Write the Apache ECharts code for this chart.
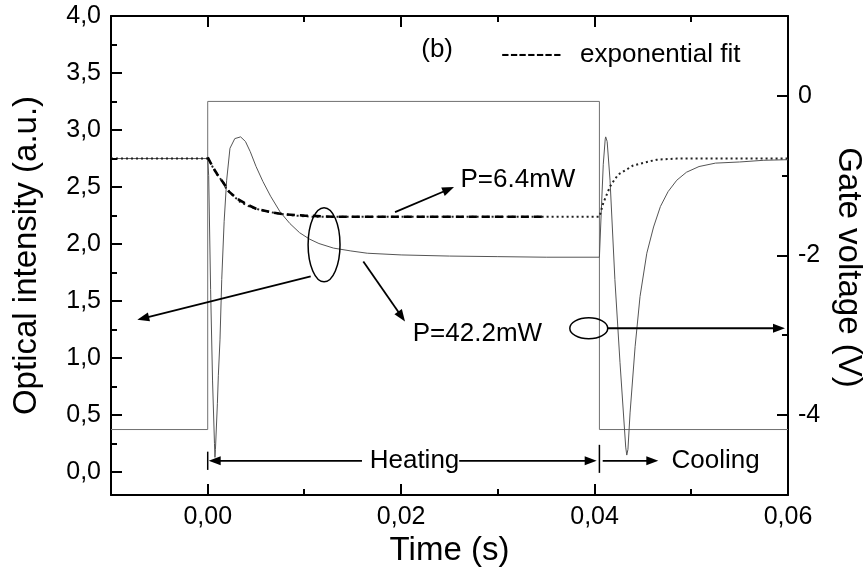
<!DOCTYPE html>
<html><head><meta charset="utf-8">
<script src="https://cdn.jsdelivr.net/npm/echarts@6/dist/echarts.min.js"></script>
<style>html,body{margin:0;padding:0;background:#fff}#c{width:868px;height:576px}</style>
</head><body><div id="c"></div>
<script>
// ---------- data (time in s, optical intensity in a.u., gate voltage in V) ----------
const xMajorTicks = [0, 0.02, 0.04];
const xMinorTicks = [0.01, 0.03, 0.05];
const xTickLabels = [0, 0.02, 0.04, 0.06];
const yLeftTickLabels = [0, 0.5, 1, 1.5, 2, 2.5, 3, 3.5, 4];
const yLeftMinorTicks = [0.25, 0.75, 1.25, 1.75, 2.25, 2.75, 3.25, 3.75];
const yRightTickLabels = [-4, -2, 0];
const yRightMinorTicks = [-3, -1];

const gateTime = [-0.01, 0, 0, 0.0405, 0.0405, 0.06];
const gateVolt = [-4.18, -4.18, -0.07, -0.07, -4.18, -4.18];

const p42Time = [-0.01, -0.005, 0, 0.0001, 0.0003, 0.0005, 0.0007, 0.00075, 0.0008, 0.001, 0.0011, 0.00127, 0.00145, 0.0017, 0.00196, 0.0023, 0.0028, 0.0034, 0.0039, 0.0044, 0.005, 0.0057, 0.0065, 0.0075, 0.0085, 0.0095, 0.0105, 0.0115, 0.013, 0.0148, 0.0165, 0.02, 0.025, 0.03, 0.035, 0.0405, 0.0407, 0.0409, 0.0411, 0.04115, 0.0413, 0.0416, 0.0421, 0.04263, 0.04322, 0.04333, 0.04345, 0.04367, 0.04419, 0.0447, 0.0454, 0.0461, 0.04681, 0.0476, 0.0485, 0.0495, 0.0508, 0.0525, 0.055, 0.0575, 0.06];
const p42Val  = [2.75, 2.75, 2.75, 2.6, 1.6, 0.8, 0.25, 0.13, 0.2, 0.6, 0.85, 1.16, 1.69, 2.2, 2.56, 2.84, 2.925, 2.94, 2.9, 2.81, 2.68, 2.55, 2.42, 2.28, 2.18, 2.1, 2.045, 2.005, 1.965, 1.94, 1.92, 1.905, 1.895, 1.89, 1.885, 1.885, 2.3, 2.7, 2.92, 2.94, 2.9, 2.56, 1.69, 0.96, 0.22, 0.15, 0.2, 0.52, 1.1, 1.54, 1.92, 2.15, 2.33, 2.46, 2.56, 2.63, 2.68, 2.71, 2.72, 2.735, 2.74];

const p64Time = [-0.01, -0.005, 0, 0.00024, 0.0008, 0.0016, 0.00196, 0.0027, 0.00334, 0.0043, 0.0054, 0.0065, 0.0075, 0.009, 0.0109, 0.015, 0.02, 0.03, 0.0405, 0.0409, 0.0416, 0.0421, 0.04246, 0.044, 0.0454, 0.04643, 0.0485, 0.06];
const p64Val  = [2.75, 2.75, 2.75, 2.72, 2.63, 2.54, 2.48, 2.42, 2.37, 2.33, 2.3, 2.28, 2.266, 2.25, 2.24, 2.24, 2.24, 2.24, 2.24, 2.36, 2.505, 2.57, 2.61, 2.69, 2.72, 2.74, 2.75, 2.75];

const fitTime = [0, 0.0005, 0.001, 0.0016, 0.0022, 0.003, 0.004, 0.005, 0.0065, 0.008, 0.01, 0.013, 0.02, 0.035];
const fitVal  = [2.76, 2.68, 2.61, 2.54, 2.46, 2.40, 2.35, 2.31, 2.28, 2.26, 2.25, 2.24, 2.24, 2.24];

// annotation anchors in data coordinates [time, intensity]
const annoTexts = [
  {pos: [0.02372, 3.70], text: '(b)', align: 'center'},
  {pos: [0.03033, 3.66], text: '-------', align: 'left'},
  {pos: [0.0385, 3.66], text: 'exponential fit', align: 'left'},
  {pos: [0.02614, 2.561], text: 'P=6.4mW', align: 'left'},
  {pos: [0.0212, 1.216], text: 'P=42.2mW', align: 'left'},
  {pos: [0.02138, 0.1], text: 'Heating', align: 'center'},
  {pos: [0.04795, 0.1], text: 'Cooling', align: 'left'}
];
const annoArrows = [
  {from: [0.01937, 2.281], to: [0.02547, 2.5]},
  {from: [0.01065, 1.716], to: [-0.00728, 1.336]},
  {from: [0.01609, 1.847], to: [0.0204, 1.321]},
  {from: [0.04137, 1.262], to: [0.05969, 1.262]},
  {from: [0.01595, 0.1], to: [0.0001, 0.1]},
  {from: [0.026, 0.1], to: [0.04022, 0.1]},
  {from: [0.04084, 0.1], to: [0.04659, 0.1]}
];
const annoEllipses = [
  {c: [0.01203, 1.994], r: [0.00165, 0.325]},
  {c: [0.0394, 1.262], r: [0.00196, 0.092]}
];
const annoBars = [
  {t: 0, v: [0.18, 0.02]},
  {t: 0.0405, v: [0.24, -0.006]}
];

// ---------- chart ----------
const FONT = '"Liberation Sans", Arial, sans-serif';
const X_MIN = -0.01, X_MAX = 0.06, YL_MIN = -0.2, YL_MAX = 4.0, YR_MIN = -5, YR_MAX = 1;
const pairs = (a, b) => a.map((t, i) => [t, b[i]]);
const comma = (v, d) => v.toFixed(d).replace('.', ',');

const chart = echarts.init(document.getElementById('c'), null, {renderer: 'canvas'});
const line = {show: true, onZero: false, lineStyle: {color: '#000', width: 2}};
const labelStyle = {show: true, margin: 10, color: '#000', fontSize: 25, fontFamily: FONT};
const nameStyle = {fontSize: 33, fontFamily: FONT, color: '#000'};

const option = {
  animation: false,
  backgroundColor: '#fff',
  grid: {left: 111, right: 80, top: 16, bottom: 81, containLabel: false, outerBoundsMode: 'none'},
  xAxis: [
    {
      type: 'value', position: 'bottom', min: X_MIN, max: X_MAX, splitLine: {show: false},
      axisLine: line, axisTick: {show: false},
      axisLabel: Object.assign({}, labelStyle, {customValues: xTickLabels, formatter: v => comma(v, 2)}),
      name: 'Time (s)', nameLocation: 'middle', nameGap: 38, nameTextStyle: nameStyle
    },
    {type: 'value', position: 'top', min: X_MIN, max: X_MAX, splitLine: {show: false}, axisLine: line, axisTick: {show: false}, axisLabel: {show: false}}
  ],
  yAxis: [
    {
      type: 'value', position: 'left', min: YL_MIN, max: YL_MAX, splitLine: {show: false},
      axisLine: line, axisTick: {show: false},
      axisLabel: Object.assign({}, labelStyle, {customValues: yLeftTickLabels, formatter: v => comma(v, 1)}),
      name: 'Optical intensity (a.u.)', nameLocation: 'middle', nameGap: 68, nameRotate: 90, nameTextStyle: nameStyle
    },
    {
      type: 'value', position: 'right', min: YR_MIN, max: YR_MAX, splitLine: {show: false},
      axisLine: line, axisTick: {show: false},
      axisLabel: Object.assign({}, labelStyle, {customValues: yRightTickLabels, formatter: v => String(v)}),
      name: 'Gate voltage (V)', nameLocation: 'middle', nameGap: 42, nameRotate: -90,
      nameTextStyle: Object.assign({}, nameStyle, {padding: [0, 0, 0, 24]})
    }
  ],
  series: [
    {name: 'Gate voltage', type: 'line', xAxisIndex: 0, yAxisIndex: 1, data: pairs(gateTime, gateVolt), symbol: 'none', lineStyle: {color: '#707070', width: 1}, z: 2},
    {name: 'P=42.2mW', type: 'line', xAxisIndex: 0, yAxisIndex: 0, data: pairs(p42Time, p42Val), symbol: 'none', lineStyle: {color: '#555', width: 1}, z: 3},
    {name: 'P=6.4mW', type: 'line', xAxisIndex: 0, yAxisIndex: 0, data: pairs(p64Time, p64Val), symbol: 'none', lineStyle: {color: '#222', width: 2, type: [2, 3]}, z: 4},
    {name: 'exponential fit', type: 'line', xAxisIndex: 0, yAxisIndex: 0, data: pairs(fitTime, fitVal), symbol: 'none', lineStyle: {color: '#000', width: 2.6, type: [8, 5]}, z: 5}
  ]
};
chart.setOption(option);

// ---------- ticks and annotations placed through the axes ----------
const px = p => chart.convertToPixel({xAxisIndex: 0, yAxisIndex: 0}, p);
const pxR = p => chart.convertToPixel({xAxisIndex: 0, yAxisIndex: 1}, p);
const g = [];
const seg = (a, b, w) => g.push({type: 'line', z: 100, silent: true, shape: {x1: a[0], y1: a[1], x2: b[0], y2: b[1]}, style: {stroke: '#000', lineWidth: w}});

const MAJ = 11, MIN = 6;
const xTick = (t, len) => {
  const pb = px([t, YL_MIN]), pt = px([t, YL_MAX]);
  const x = Math.round(pb[0]);
  seg([x, pb[1]], [x, pb[1] - len], 2);
  seg([x, pt[1]], [x, pt[1] + len], 2);
};
xMajorTicks.forEach(t => xTick(t, MAJ));
xMinorTicks.forEach(t => xTick(t, MIN));
const yLTick = (v, len) => { const p = px([X_MIN, v]); const y = Math.round(p[1]); seg([p[0], y], [p[0] + len, y], 2); };
yLeftTickLabels.forEach(v => yLTick(v, MAJ));
yLeftMinorTicks.forEach(v => yLTick(v, MIN));
const yRTick = (v, len) => { const p = pxR([X_MAX, v]); const y = Math.round(p[1]); seg([p[0], y], [p[0] - len, y], 2); };
yRightTickLabels.forEach(v => yRTick(v, MAJ));
yRightMinorTicks.forEach(v => yRTick(v, MIN));

annoTexts.forEach(a => {
  const p = px(a.pos);
  g.push({type: 'text', x: p[0], y: p[1], z: 100, silent: true,
    style: {text: a.text, font: '26px ' + FONT, fill: '#000', align: a.align, textAlign: a.align, verticalAlign: 'middle', textVerticalAlign: 'middle'}});
});
annoArrows.forEach(a => {
  const p0 = px(a.from), p1 = px(a.to);
  const dx = p1[0] - p0[0], dy = p1[1] - p0[1], L = Math.hypot(dx, dy);
  const ux = dx / L, uy = dy / L, len = 12, hw = 4.5;
  const bx = p1[0] - ux * len, by = p1[1] - uy * len, nx = -uy, ny = ux;
  seg(p0, [bx + ux * 2, by + uy * 2], 1.8);
  g.push({type: 'polygon', z: 100, silent: true, shape: {points: [[p1[0], p1[1]], [bx + nx * hw, by + ny * hw], [bx - nx * hw, by - ny * hw]]}, style: {fill: '#000'}});
});
annoEllipses.forEach(e => {
  const c = px(e.c), cr = px([e.c[0] + e.r[0], e.c[1] + e.r[1]]);
  g.push({type: 'ellipse', z: 100, silent: true, shape: {cx: c[0], cy: c[1], rx: Math.abs(cr[0] - c[0]), ry: Math.abs(cr[1] - c[1])}, style: {fill: null, stroke: '#000', lineWidth: 1.5}});
});
annoBars.forEach(b => seg(px([b.t, b.v[0]]), px([b.t, b.v[1]]), 1.5));
chart.setOption({graphic: g});
</script>
</body></html>
